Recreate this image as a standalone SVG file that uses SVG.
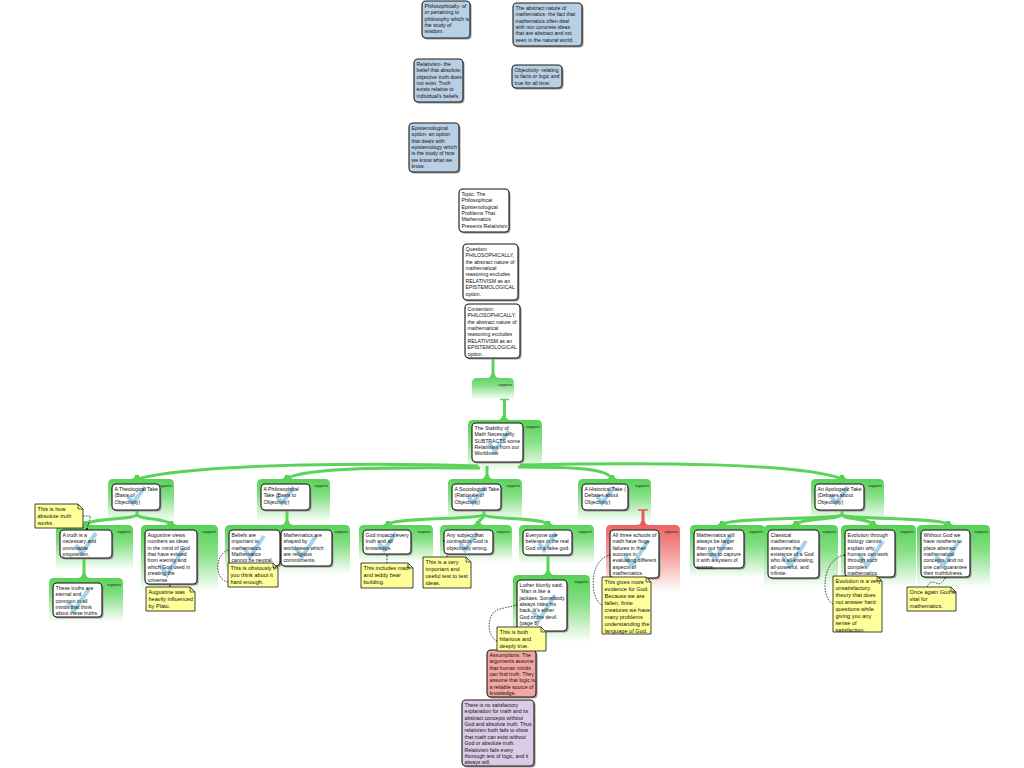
<svg xmlns="http://www.w3.org/2000/svg" width="1024" height="768" viewBox="0 0 1024 768">
<defs>
<linearGradient id="gG" x1="0" y1="0" x2="0" y2="1">
<stop offset="0" stop-color="#4dcf4d"/><stop offset="0.45" stop-color="#86e086"/><stop offset="1" stop-color="#ffffff"/>
</linearGradient>
<linearGradient id="gR" x1="0" y1="0" x2="0" y2="1">
<stop offset="0" stop-color="#ee5a5a"/><stop offset="0.45" stop-color="#f49a9a"/><stop offset="1" stop-color="#ffffff"/>
</linearGradient>
<style>
.bx{fill:#fff;stroke:#111;stroke-width:1.1}
.bl{fill:#b9d0e4;stroke:#1a1a1a;stroke-width:1.1}
.rd{fill:#f4a7a2;stroke:#1a1a1a;stroke-width:1.1}
.pu{fill:#dccbe6;stroke:#1a1a1a;stroke-width:1.1}
.sh{fill:#9a9a9a}
.nt{fill:#ffff99;stroke:#111;stroke-width:0.8}
.fd{fill:#e8e890;stroke:#111;stroke-width:0.6}
.t{font-family:"Liberation Sans",Arial,sans-serif;font-size:5.2px;fill:#111}
.tn{font-family:"Liberation Sans",Arial,sans-serif;font-size:5.6px;fill:#111}
.lab{font-family:"Liberation Sans",Arial,sans-serif;font-size:3.6px;fill:#222;text-anchor:end}
.cn{fill:none;stroke:#5bd35b;stroke-width:3}
.cr{fill:none;stroke:#ec5a5a;stroke-width:3}
.dn{fill:none;stroke:#000;stroke-width:0.7;stroke-dasharray:1.6 1.2}
.ck{fill:none;stroke:#a5d3ea;stroke-width:4}
.bgG{fill:url(#gG)}
.bgR{fill:url(#gR)}
</style>
</defs>
<rect width="1024" height="768" fill="#fff"/>

<g id="reason-backgrounds">
<path class="bgG" d="M472,400 V383 Q472,378 477,378 H486 Q491,378 491,374 H495 Q495,378 500,378 H509 Q514,378 514,383 V400 Z"/>
<text class="lab" x="512" y="386">supports</text>
<path class="bgG" d="M468,472 V425 Q468,420 473,420 H497 Q502,420 502,416 H506 Q506,420 511,420 H537 Q542,420 542,425 V472 Z"/>
<text class="lab" x="540" y="428">supports</text>
<path class="bgG" d="M108,522 V484 Q108,479 113,479 H130 Q135,479 135,475 H139 Q139,479 144,479 H169 Q174,479 174,484 V522 Z"/>
<text class="lab" x="172" y="487">supports</text>
<path class="bgG" d="M257,522 V484 Q257,479 262,479 H280 Q285,479 285,475 H289 Q289,479 294,479 H325 Q330,479 330,484 V522 Z"/>
<text class="lab" x="328" y="487">supports</text>
<path class="bgG" d="M448,522 V484 Q448,479 453,479 H480 Q485,479 485,475 H489 Q489,479 494,479 H517 Q522,479 522,484 V522 Z"/>
<text class="lab" x="520" y="487">supports</text>
<path class="bgG" d="M578,522 V484 Q578,479 583,479 H605 Q610,479 610,475 H614 Q614,479 619,479 H646 Q651,479 651,484 V522 Z"/>
<text class="lab" x="649" y="487">supports</text>
<path class="bgG" d="M811,522 V484 Q811,479 816,479 H835 Q840,479 840,475 H844 Q844,479 849,479 H879 Q884,479 884,484 V522 Z"/>
<text class="lab" x="882" y="487">supports</text>
<path class="bgG" d="M56,570 V530 Q56,525 61,525 H79 Q84,525 84,521 H88 Q88,525 93,525 H128 Q133,525 133,530 V570 Z"/>
<text class="lab" x="131" y="533">supports</text>
<path class="bgG" d="M141,592 V530 Q141,525 146,525 H164 Q169,525 169,521 H173 Q173,525 178,525 H213 Q218,525 218,530 V592 Z"/>
<text class="lab" x="216" y="533">supports</text>
<path class="bgG" d="M49,622 V583 Q49,578 54,578 H77 Q82,578 82,574 H86 Q86,578 91,578 H118 Q123,578 123,583 V622 Z"/>
<text class="lab" x="121" y="586">supports</text>
<path class="bgG" d="M225,574 V530 Q225,525 230,525 H280 Q285,525 285,521 H289 Q289,525 294,525 H345 Q350,525 350,530 V574 Z"/>
<text class="lab" x="348" y="533">supports</text>
<path class="bgG" d="M359,562 V530 Q359,525 364,525 H381 Q386,525 386,521 H390 Q390,525 395,525 H428 Q433,525 433,530 V562 Z"/>
<text class="lab" x="431" y="533">supports</text>
<path class="bgG" d="M440,562 V530 Q440,525 445,525 H471 Q476,525 476,521 H480 Q480,525 485,525 H507 Q512,525 512,530 V562 Z"/>
<text class="lab" x="510" y="533">supports</text>
<path class="bgG" d="M519,564 V530 Q519,525 524,525 H541 Q546,525 546,521 H550 Q550,525 555,525 H589 Q594,525 594,530 V564 Z"/>
<text class="lab" x="592" y="533">supports</text>
<path class="bgG" d="M513,642 V580 Q513,575 518,575 H541 Q546,575 546,571 H550 Q550,575 555,575 H585 Q590,575 590,580 V642 Z"/>
<text class="lab" x="588" y="583">supports</text>
<path class="bgR" d="M606,592 V530 Q606,525 611,525 H636 Q641,525 641,521 H645 Q645,525 650,525 H675 Q680,525 680,530 V592 Z"/>
<text class="lab" x="678" y="533">opposes</text>
<path class="bgG" d="M690,578 V530 Q690,525 695,525 H715 Q720,525 720,521 H724 Q724,525 729,525 H760 Q765,525 765,530 V578 Z"/>
<text class="lab" x="763" y="533">supports</text>
<path class="bgG" d="M764,588 V530 Q764,525 769,525 H789 Q794,525 794,521 H798 Q798,525 803,525 H833 Q838,525 838,530 V588 Z"/>
<text class="lab" x="836" y="533">supports</text>
<path class="bgG" d="M841,588 V530 Q841,525 846,525 H866 Q871,525 871,521 H875 Q875,525 880,525 H911 Q916,525 916,530 V588 Z"/>
<text class="lab" x="914" y="533">supports</text>
<path class="bgG" d="M917,588 V530 Q917,525 922,525 H941 Q946,525 946,521 H950 Q950,525 955,525 H985 Q990,525 990,530 V588 Z"/>
<text class="lab" x="988" y="533">supports</text>
</g>

<g id="connectors">
<path class="cn" d="M493,358 V378"/>
<path d="M500,399.5 H509" stroke="#5bd35b" stroke-width="1.5"/>
<path class="cn" d="M504.5,399 V420"/>
<path class="cn" d="M478,466 C400,463 200,462 137,479"/>
<path class="cn" d="M480,468 C400,467 300,467 287,479"/>
<path class="cn" d="M487,466 V479"/>
<path class="cn" d="M518,467 C580,467 608,469 612,479"/>
<path class="cn" d="M520,465 C650,462 800,463 842,479"/>
<path class="cn" d="M137,509 V514 C137,520 88,518 86,525"/>
<path class="cn" d="M137,514 C137,520 169,518 171,525"/>
<path class="cn" d="M287,509 V525"/>
<path class="cn" d="M484,509 V514 C484,520 390,517 388,525"/>
<path class="cn" d="M484,514 C484,520 478,518 478,525"/>
<path class="cn" d="M484,514 C484,520 546,517 548,525"/>
<path d="M638,510 H648" stroke="#ec5a5a" stroke-width="1.5"/>
<path class="cr" d="M643,510 V525"/>
<path class="cn" d="M842,509 V514 C842,520 724,517 722,525"/>
<path class="cn" d="M842,514 C842,520 798,518 796,525"/>
<path class="cn" d="M842,514 C842,520 871,518 873,525"/>
<path class="cn" d="M842,514 C842,520 946,517 948,525"/>
<path class="cn" d="M84,558 V578"/>
<path class="cn" d="M548,555 V575"/>
<path class="dn" d="M83,516 H90.5 L87,529"/><circle cx="87" cy="529" r="1"/>
<path class="dn" d="M170,587 V584.5"/><circle cx="170" cy="585" r="1"/>
<path class="dn" d="M228,582 C214,580 214,552 231,549"/><circle cx="231" cy="549" r="1"/>
<path class="dn" d="M387,563 V555"/><circle cx="387" cy="555" r="1"/>
<path class="dn" d="M447,557 V547 Q447,541 443,541"/><circle cx="444" cy="541" r="1"/>
<path class="dn" d="M497,641 C486,636 486,612 500,609 L517,605"/><circle cx="517" cy="605" r="1"/>
<path class="dn" d="M602,605 C590,600 588,560 610,555"/><circle cx="610" cy="555" r="1"/>
<path class="dn" d="M833,604 C820,598 822,558 845,555"/><circle cx="845" cy="555" r="1"/>
<path class="dn" d="M927,587 Q930,580 936,583 Q941,586 945,578"/><circle cx="945" cy="578" r="1"/>
</g>

<g id="def-philosophically">
<rect class="sh" x="423.5" y="2.5" width="48" height="37" rx="4"/>
<rect class="bl" x="422" y="1" width="48" height="37" rx="4"/>
<text class="t" x="424.5" y="7.8"><tspan x="424.5">Philosophically- of</tspan><tspan x="424.5" dy="6.4">or pertaining to</tspan><tspan x="424.5" dy="6.4">philosophy which is</tspan><tspan x="424.5" dy="6.4">the study of</tspan><tspan x="424.5" dy="6.4">wisdom.</tspan></text>
</g>
<g id="def-abstract">
<rect class="sh" x="514.5" y="4.5" width="69" height="43" rx="4"/>
<rect class="bl" x="513" y="3" width="69" height="43" rx="4"/>
<text class="t" x="515.5" y="9.8"><tspan x="515.5">The abstract nature of</tspan><tspan x="515.5" dy="6.4">mathematics- the fact that</tspan><tspan x="515.5" dy="6.4">mathematics often deal</tspan><tspan x="515.5" dy="6.4">with non concrete ideas</tspan><tspan x="515.5" dy="6.4">that are abstract and not</tspan><tspan x="515.5" dy="6.4">seen in the natural world.</tspan></text>
</g>
<g id="def-relativism">
<rect class="sh" x="415.5" y="60.5" width="49" height="43" rx="4"/>
<rect class="bl" x="414" y="59" width="49" height="43" rx="4"/>
<text class="t" x="416.5" y="65.8"><tspan x="416.5">Relativism- the</tspan><tspan x="416.5" dy="6.4">belief that absolute,</tspan><tspan x="416.5" dy="6.4">objective truth does</tspan><tspan x="416.5" dy="6.4">not exist. Truth</tspan><tspan x="416.5" dy="6.4">exists relative to</tspan><tspan x="416.5" dy="6.4">individual's beliefs.</tspan></text>
</g>
<g id="def-objectivity">
<rect class="sh" x="513.5" y="66.5" width="50" height="23" rx="4"/>
<rect class="bl" x="512" y="65" width="50" height="23" rx="4"/>
<text class="t" x="514.5" y="71.8"><tspan x="514.5">Objectivity- relating</tspan><tspan x="514.5" dy="6.4">to facts or logic and</tspan><tspan x="514.5" dy="6.4">true for all time.</tspan></text>
</g>
<g id="def-epistemological">
<rect class="sh" x="410.5" y="124.5" width="50" height="49" rx="4"/>
<rect class="bl" x="409" y="123" width="50" height="49" rx="4"/>
<text class="t" x="411.5" y="129.8"><tspan x="411.5">Epistemological</tspan><tspan x="411.5" dy="6.4">option- an option</tspan><tspan x="411.5" dy="6.4">that deals with</tspan><tspan x="411.5" dy="6.4">epistemology which</tspan><tspan x="411.5" dy="6.4">is the study of how</tspan><tspan x="411.5" dy="6.4">we know what we</tspan><tspan x="411.5" dy="6.4">know.</tspan></text>
</g>
<g id="topic">
<rect class="sh" x="460.5" y="190.5" width="50" height="43" rx="4"/>
<rect class="bx" x="459" y="189" width="50" height="43" rx="4"/>
<text class="t" x="461.5" y="195.8"><tspan x="461.5">Topic: The</tspan><tspan x="461.5" dy="6.4">Philosophical</tspan><tspan x="461.5" dy="6.4">Epistemological</tspan><tspan x="461.5" dy="6.4">Problems That</tspan><tspan x="461.5" dy="6.4">Mathematics</tspan><tspan x="461.5" dy="6.4">Presents Relativism</tspan></text>
</g>
<g id="question">
<rect class="sh" x="464.5" y="245.5" width="55" height="56" rx="4"/>
<rect class="bx" x="463" y="244" width="55" height="56" rx="4"/>
<text class="t" x="465.5" y="250.8"><tspan x="465.5">Question:</tspan><tspan x="465.5" dy="6.4">PHILOSOPHICALLY,</tspan><tspan x="465.5" dy="6.4">the abstract nature of</tspan><tspan x="465.5" dy="6.4">mathematical</tspan><tspan x="465.5" dy="6.4">reasoning excludes</tspan><tspan x="465.5" dy="6.4">RELATIVISM as an</tspan><tspan x="465.5" dy="6.4">EPISTEMOLOGICAL</tspan><tspan x="465.5" dy="6.4">option.</tspan></text>
</g>
<g id="contention">
<rect class="sh" x="466.5" y="305.5" width="55" height="54" rx="4"/>
<rect class="bx" x="465" y="304" width="55" height="54" rx="4"/>
<text class="t" x="467.5" y="310.8"><tspan x="467.5">Contention:</tspan><tspan x="467.5" dy="6.4">PHILOSOPHICALLY,</tspan><tspan x="467.5" dy="6.4">the abstract nature of</tspan><tspan x="467.5" dy="6.4">mathematical</tspan><tspan x="467.5" dy="6.4">reasoning excludes</tspan><tspan x="467.5" dy="6.4">RELATIVISM as an</tspan><tspan x="467.5" dy="6.4">EPISTEMOLOGICAL</tspan><tspan x="467.5" dy="6.4">option.</tspan></text>
</g>
<g id="main-claim">
<rect class="sh" x="473.5" y="424.5" width="51" height="39" rx="4"/>
<rect class="bx" x="472" y="423" width="51" height="39" rx="4"/>
<path class="ck" d="M489,443 L495,451 L509,431"/>
<text class="t" x="474.5" y="429.8"><tspan x="474.5">The Stability of</tspan><tspan x="474.5" dy="6.4">Math Necessarily</tspan><tspan x="474.5" dy="6.4">SUBTRACTS some</tspan><tspan x="474.5" dy="6.4">Relativism from our</tspan><tspan x="474.5" dy="6.4">Worldview</tspan></text>
</g>

<g id="theological">
<rect class="sh" x="113.5" y="485.5" width="48" height="26" rx="4"/>
<rect class="bx" x="112" y="484" width="48" height="26" rx="4"/>
<path class="ck" d="M128,496 L133,503 L145,487"/>
<text class="t" x="114.5" y="490.8"><tspan x="114.5">A Theological Take</tspan><tspan x="114.5" dy="6.4">(Basis of</tspan><tspan x="114.5" dy="6.4">Objectivity)</tspan></text>
</g>
<g id="philosophical">
<rect class="sh" x="262.5" y="485.5" width="49" height="26" rx="4"/>
<rect class="bx" x="261" y="484" width="49" height="26" rx="4"/>
<path class="ck" d="M277,496 L282,503 L294,487"/>
<text class="t" x="263.5" y="490.8"><tspan x="263.5">A Philosophical</tspan><tspan x="263.5" dy="6.4">Take (Basis to</tspan><tspan x="263.5" dy="6.4">Objectivity)</tspan></text>
</g>
<g id="sociological">
<rect class="sh" x="453.5" y="485.5" width="49" height="26" rx="4"/>
<rect class="bx" x="452" y="484" width="49" height="26" rx="4"/>
<path class="ck" d="M468,496 L473,503 L485,487"/>
<text class="t" x="454.5" y="490.8"><tspan x="454.5">A Sociological Take</tspan><tspan x="454.5" dy="6.4">(Rationale of</tspan><tspan x="454.5" dy="6.4">Objectivity)</tspan></text>
</g>
<g id="historical">
<rect class="sh" x="583.5" y="485.5" width="46" height="26" rx="4"/>
<rect class="bx" x="582" y="484" width="46" height="26" rx="4"/>
<path class="ck" d="M597,496 L602,503 L614,487"/>
<text class="t" x="584.5" y="490.8"><tspan x="584.5">A Historical Take (</tspan><tspan x="584.5" dy="6.4">Debates about</tspan><tspan x="584.5" dy="6.4">Objectivity)</tspan></text>
</g>
<g id="apologetic">
<rect class="sh" x="816.5" y="485.5" width="49" height="26" rx="4"/>
<rect class="bx" x="815" y="484" width="49" height="26" rx="4"/>
<path class="ck" d="M831,496 L836,503 L848,487"/>
<text class="t" x="817.5" y="490.8"><tspan x="817.5">An Apologetic Take</tspan><tspan x="817.5" dy="6.4">(Debates about</tspan><tspan x="817.5" dy="6.4">Objectivity)</tspan></text>
</g>

<g id="truth-proposition">
<rect class="sh" x="61.5" y="531.5" width="52" height="28" rx="4"/>
<rect class="bx" x="60" y="530" width="52" height="28" rx="4"/>
<path class="ck" d="M76,545 L82,553 L96,533"/>
<text class="t" x="62.5" y="536.8"><tspan x="62.5">A truth is a</tspan><tspan x="62.5" dy="6.4">necessary and</tspan><tspan x="62.5" dy="6.4">unmovable</tspan><tspan x="62.5" dy="6.4">proposition.</tspan></text>
</g>
<g id="augustine">
<rect class="sh" x="146.5" y="531.5" width="52" height="54" rx="4"/>
<rect class="bx" x="145" y="530" width="52" height="54" rx="4"/>
<path class="ck" d="M160,565 L167,575 L184,548"/>
<text class="t" x="147.5" y="536.8"><tspan x="147.5">Augustine views</tspan><tspan x="147.5" dy="6.4">numbers as ideas</tspan><tspan x="147.5" dy="6.4">in the mind of God</tspan><tspan x="147.5" dy="6.4">that have existed</tspan><tspan x="147.5" dy="6.4">from eternity and</tspan><tspan x="147.5" dy="6.4">which God used in</tspan><tspan x="147.5" dy="6.4">creating the</tspan><tspan x="147.5" dy="6.4">universe.</tspan></text>
</g>
<g id="eternal-truths">
<rect class="sh" x="54.5" y="584.5" width="49" height="34" rx="4"/>
<rect class="bx" x="53" y="583" width="49" height="34" rx="4"/>
<path class="ck" d="M68,602 L74,611 L89,589"/>
<text class="t" x="55.5" y="589.8"><tspan x="55.5">These truths are</tspan><tspan x="55.5" dy="6.4">eternal and</tspan><tspan x="55.5" dy="6.4">common in all</tspan><tspan x="55.5" dy="6.4">minds that think</tspan><tspan x="55.5" dy="6.4">about these truths.</tspan></text>
</g>
<g id="beliefs">
<rect class="sh" x="230.5" y="531.5" width="51" height="36" rx="4"/>
<rect class="bx" x="229" y="530" width="51" height="36" rx="4"/>
<path class="ck" d="M244,548 L250,557 L264,536"/>
<text class="t" x="231.5" y="536.8"><tspan x="231.5">Beliefs are</tspan><tspan x="231.5" dy="6.4">important to</tspan><tspan x="231.5" dy="6.4">mathematics.</tspan><tspan x="231.5" dy="6.4">Mathematics</tspan><tspan x="231.5" dy="6.4">cannot be neutral.</tspan></text>
</g>
<g id="worldviews">
<rect class="sh" x="282.5" y="531.5" width="51" height="36" rx="4"/>
<rect class="bx" x="281" y="530" width="51" height="36" rx="4"/>
<path class="ck" d="M296,548 L302,557 L316,536"/>
<text class="t" x="283.5" y="536.8"><tspan x="283.5">Mathematics are</tspan><tspan x="283.5" dy="6.4">shaped by</tspan><tspan x="283.5" dy="6.4">worldviews which</tspan><tspan x="283.5" dy="6.4">are religious</tspan><tspan x="283.5" dy="6.4">commitments.</tspan></text>
</g>
<g id="god-impacts">
<rect class="sh" x="364.5" y="531.5" width="48" height="24" rx="4"/>
<rect class="bx" x="363" y="530" width="48" height="24" rx="4"/>
<path class="ck" d="M379,543 L384,550 L396,533"/>
<text class="t" x="365.5" y="536.8"><tspan x="365.5">God impacts every</tspan><tspan x="365.5" dy="6.4">truth and all</tspan><tspan x="365.5" dy="6.4">knowledge.</tspan></text>
</g>
<g id="any-subject">
<rect class="sh" x="445.5" y="531.5" width="49" height="24" rx="4"/>
<rect class="bx" x="444" y="530" width="49" height="24" rx="4"/>
<path class="ck" d="M460,543 L465,550 L477,533"/>
<text class="t" x="446.5" y="536.8"><tspan x="446.5">Any subject that</tspan><tspan x="446.5" dy="6.4">contradicts God is</tspan><tspan x="446.5" dy="6.4">objectively wrong.</tspan></text>
</g>
<g id="everyone">
<rect class="sh" x="524.5" y="531.5" width="49" height="25" rx="4"/>
<rect class="bx" x="523" y="530" width="49" height="25" rx="4"/>
<path class="ck" d="M539,543 L544,550 L556,533"/>
<text class="t" x="525.5" y="536.8"><tspan x="525.5">Everyone one</tspan><tspan x="525.5" dy="6.4">believes in the real</tspan><tspan x="525.5" dy="6.4">God or a false god.</tspan></text>
</g>
<g id="luther">
<rect class="sh" x="518.5" y="581.5" width="50" height="51" rx="4"/>
<rect class="bx" x="517" y="580" width="50" height="51" rx="4"/>
<path class="ck" d="M532,610 L539,620 L555,595"/>
<text class="t" x="519.5" y="586.8"><tspan x="519.5">Luther bluntly said,</tspan><tspan x="519.5" dy="6.4">“Man is like a</tspan><tspan x="519.5" dy="6.4">jackass. Somebody</tspan><tspan x="519.5" dy="6.4">always rides his</tspan><tspan x="519.5" dy="6.4">back. It's either</tspan><tspan x="519.5" dy="6.4">God or the devil.</tspan><tspan x="519.5" dy="6.4">(page 8)</tspan></text>
</g>
<g id="three-schools">
<rect class="sh" x="611.5" y="531.5" width="49" height="48" rx="4"/>
<rect class="bx" x="610" y="530" width="49" height="48" rx="4"/>
<path class="ck" d="M625,556 L632,566 L648,541"/>
<text class="t" x="612.5" y="536.8"><tspan x="612.5">All three schools of</tspan><tspan x="612.5" dy="6.4">math have huge</tspan><tspan x="612.5" dy="6.4">failures in their</tspan><tspan x="612.5" dy="6.4">success in</tspan><tspan x="612.5" dy="6.4">evaluating different</tspan><tspan x="612.5" dy="6.4">aspects of</tspan><tspan x="612.5" dy="6.4">mathematics.</tspan></text>
</g>
<g id="larger-than-axioms">
<rect class="sh" x="695.5" y="531.5" width="50" height="38" rx="4"/>
<rect class="bx" x="694" y="530" width="50" height="38" rx="4"/>
<path class="ck" d="M709,550 L715,559 L730,536"/>
<text class="t" x="696.5" y="536.8"><tspan x="696.5">Mathematics will</tspan><tspan x="696.5" dy="6.4">always be larger</tspan><tspan x="696.5" dy="6.4">than our human</tspan><tspan x="696.5" dy="6.4">attempts to capture</tspan><tspan x="696.5" dy="6.4">it with a system of</tspan><tspan x="696.5" dy="6.4">axioms.</tspan></text>
</g>
<g id="classical">
<rect class="sh" x="769.5" y="531.5" width="51" height="48" rx="4"/>
<rect class="bx" x="768" y="530" width="51" height="48" rx="4"/>
<path class="ck" d="M783,556 L790,566 L806,541"/>
<text class="t" x="770.5" y="536.8"><tspan x="770.5">Classical</tspan><tspan x="770.5" dy="6.4">mathematics</tspan><tspan x="770.5" dy="6.4">assumes the</tspan><tspan x="770.5" dy="6.4">existence of a God</tspan><tspan x="770.5" dy="6.4">who is all-knowing,</tspan><tspan x="770.5" dy="6.4">all-powerful, and</tspan><tspan x="770.5" dy="6.4">infinite.</tspan></text>
</g>
<g id="evolution">
<rect class="sh" x="846.5" y="531.5" width="50" height="47" rx="4"/>
<rect class="bx" x="845" y="530" width="50" height="47" rx="4"/>
<path class="ck" d="M860,556 L867,566 L883,541"/>
<text class="t" x="847.5" y="536.8"><tspan x="847.5">Evolution through</tspan><tspan x="847.5" dy="6.4">biology cannot</tspan><tspan x="847.5" dy="6.4">explain why</tspan><tspan x="847.5" dy="6.4">humans can work</tspan><tspan x="847.5" dy="6.4">through such</tspan><tspan x="847.5" dy="6.4">complex</tspan><tspan x="847.5" dy="6.4">mathematics.</tspan></text>
</g>
<g id="without-god">
<rect class="sh" x="922.5" y="531.5" width="49" height="47" rx="4"/>
<rect class="bx" x="921" y="530" width="49" height="47" rx="4"/>
<path class="ck" d="M936,556 L943,566 L959,541"/>
<text class="t" x="923.5" y="536.8"><tspan x="923.5">Without God we</tspan><tspan x="923.5" dy="6.4">have nowhere to</tspan><tspan x="923.5" dy="6.4">place abstract</tspan><tspan x="923.5" dy="6.4">mathematical</tspan><tspan x="923.5" dy="6.4">concepts, and no</tspan><tspan x="923.5" dy="6.4">one can guarantee</tspan><tspan x="923.5" dy="6.4">their truthfulness.</tspan></text>
</g>

<g id="assumptions">
<rect class="sh" x="488.5" y="651.5" width="49" height="47" rx="4"/>
<rect class="rd" x="487" y="650" width="49" height="47" rx="4"/>
<text class="t" x="489.5" y="656.8"><tspan x="489.5">Assumptions: The</tspan><tspan x="489.5" dy="6.4">arguments assume</tspan><tspan x="489.5" dy="6.4">that human minds</tspan><tspan x="489.5" dy="6.4">can find truth. They</tspan><tspan x="489.5" dy="6.4">assume that logic is</tspan><tspan x="489.5" dy="6.4">a reliable source of</tspan><tspan x="489.5" dy="6.4">knowledge.</tspan></text>
</g>
<g id="conclusion">
<rect class="sh" x="463.5" y="701.5" width="72" height="66" rx="4"/>
<rect class="pu" x="462" y="700" width="72" height="66" rx="4"/>
<text class="t" x="464.5" y="706.8"><tspan x="464.5">There is no satisfactory</tspan><tspan x="464.5" dy="6.4">explanation for math and its</tspan><tspan x="464.5" dy="6.4">abstract concepts without</tspan><tspan x="464.5" dy="6.4">God and absolute truth. Thus</tspan><tspan x="464.5" dy="6.4">relativism both fails to show</tspan><tspan x="464.5" dy="6.4">that math can exist without</tspan><tspan x="464.5" dy="6.4">God or absolute truth.</tspan><tspan x="464.5" dy="6.4">Relativism fails every</tspan><tspan x="464.5" dy="6.4">thorough test of logic, and it</tspan><tspan x="464.5" dy="6.4">always will.</tspan></text>
</g>

<g id="note-absolute-truth">
<path class="nt" d="M35,504 H78 L83,509 V528 H35 Z"/><path class="fd" d="M78,504 V509 H83 Z"/>
<text class="tn" x="37.5" y="511"><tspan x="37.5">This is how</tspan><tspan x="37.5" dy="7.2">absolute truth</tspan><tspan x="37.5" dy="7.2">works.</tspan></text>
</g>
<g id="note-plato">
<path class="nt" d="M146,587 H190 L195,592 V611 H146 Z"/><path class="fd" d="M190,587 V592 H195 Z"/>
<text class="tn" x="148.5" y="594"><tspan x="148.5">Augustine was</tspan><tspan x="148.5" dy="7.2">heavily influenced</tspan><tspan x="148.5" dy="7.2">by Plato.</tspan></text>
</g>
<g id="note-obviously">
<path class="nt" d="M228,563 H273 L278,568 V587 H228 Z"/><path class="fd" d="M273,563 V568 H278 Z"/>
<text class="tn" x="230.5" y="570"><tspan x="230.5">This is obviously if</tspan><tspan x="230.5" dy="7.2">you think about it</tspan><tspan x="230.5" dy="7.2">hard enough.</tspan></text>
</g>
<g id="note-bear">
<path class="nt" d="M361,563 H408 L413,568 V588 H361 Z"/><path class="fd" d="M408,563 V568 H413 Z"/>
<text class="tn" x="363.5" y="570"><tspan x="363.5">This includes math</tspan><tspan x="363.5" dy="7.2">and teddy bear</tspan><tspan x="363.5" dy="7.2">building.</tspan></text>
</g>
<g id="note-test">
<path class="nt" d="M423,557 H466 L471,562 V588 H423 Z"/><path class="fd" d="M466,557 V562 H471 Z"/>
<text class="tn" x="425.5" y="564"><tspan x="425.5">This is a very</tspan><tspan x="425.5" dy="7">important and</tspan><tspan x="425.5" dy="7">useful test to test</tspan><tspan x="425.5" dy="7">ideas.</tspan></text>
</g>
<g id="note-hilarious">
<path class="nt" d="M497,627 H541 L546,632 V651 H497 Z"/><path class="fd" d="M541,627 V632 H546 Z"/>
<text class="tn" x="499.5" y="634"><tspan x="499.5">This is both</tspan><tspan x="499.5" dy="7.2">hilarious and</tspan><tspan x="499.5" dy="7.2">deeply true.</tspan></text>
</g>
<g id="note-language">
<path class="nt" d="M602,577 H646 L651,582 V634 H602 Z"/><path class="fd" d="M646,577 V582 H651 Z"/>
<text class="tn" x="604.5" y="584"><tspan x="604.5">This gives more</tspan><tspan x="604.5" dy="7">evidence for God.</tspan><tspan x="604.5" dy="7">Because we are</tspan><tspan x="604.5" dy="7">fallen, finite</tspan><tspan x="604.5" dy="7">creatures we have</tspan><tspan x="604.5" dy="7">many problems</tspan><tspan x="604.5" dy="7">understanding the</tspan><tspan x="604.5" dy="7">language of God.</tspan></text>
</g>
<g id="note-evolution">
<path class="nt" d="M833,576 H877 L882,581 V632 H833 Z"/><path class="fd" d="M877,576 V581 H882 Z"/>
<text class="tn" x="835.5" y="583"><tspan x="835.5">Evolution is a very</tspan><tspan x="835.5" dy="7">unsatisfactory</tspan><tspan x="835.5" dy="7">theory that does</tspan><tspan x="835.5" dy="7">not answer hard</tspan><tspan x="835.5" dy="7">questions while</tspan><tspan x="835.5" dy="7">giving you any</tspan><tspan x="835.5" dy="7">sense of</tspan><tspan x="835.5" dy="7">satisfaction.</tspan></text>
</g>
<g id="note-vital">
<path class="nt" d="M907,587 H951 L956,592 V611 H907 Z"/><path class="fd" d="M951,587 V592 H956 Z"/>
<text class="tn" x="909.5" y="594"><tspan x="909.5">Once again God is</tspan><tspan x="909.5" dy="7.2">vital for</tspan><tspan x="909.5" dy="7.2">mathematics.</tspan></text>
</g>
</svg>
